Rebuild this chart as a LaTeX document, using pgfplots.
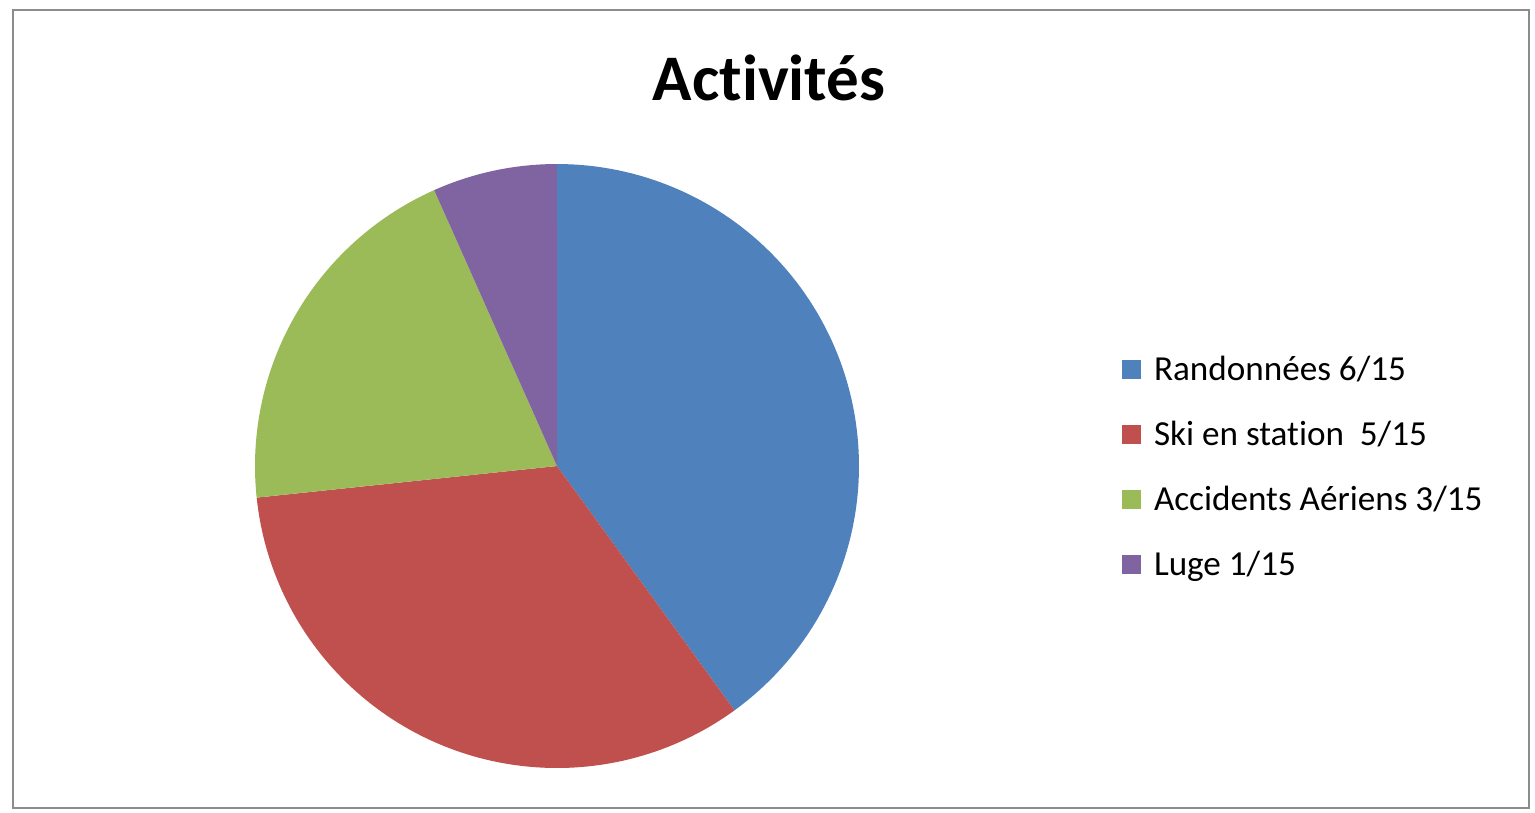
\documentclass[border=0pt]{standalone}
\usepackage{pgfplots}
\pgfplotsset{compat=1.18}
\usepackage{fontspec}
\setmainfont{Carlito}[Ligatures=NoCommon]
\definecolor{cblue}{HTML}{4F81BD}
\definecolor{cred}{HTML}{C0504D}
\definecolor{cgreen}{HTML}{9BBB59}
\definecolor{cpurple}{HTML}{8064A2}
% values of the pie: Randonnées 6, Ski en station 5, Accidents Aériens 3, Luge 1 (total 15)
\def\vA{6}\def\vB{5}\def\vC{3}\def\vD{1}
\pgfmathsetmacro\tot{\vA+\vB+\vC+\vD}
\pgfmathsetmacro\aA{90}
\pgfmathsetmacro\aB{90-360*\vA/\tot}
\pgfmathsetmacro\aC{90-360*(\vA+\vB)/\tot}
\pgfmathsetmacro\aD{90-360*(\vA+\vB+\vC)/\tot}
\pgfmathsetmacro\aE{90-360}
\def\cx{557}\def\cy{346}\def\R{302}
\begin{document}
\begin{tikzpicture}
\begin{axis}[
  scale only axis, width=15.35cm, height=8.12cm,
  xmin=0, xmax=1535, ymin=0, ymax=812,
  hide axis, clip=false,
  legend style={at={(axis cs:1122,455)}, anchor=north west, draw=none, fill=none,
    font=\fontsize{10}{12}\selectfont, inner sep=0pt, outer sep=0pt,
    row sep=0.36cm, column sep=0.13cm,
    nodes={inner sep=0pt, text height=0.23cm, text depth=0.06cm}},
  legend cell align=left,
  legend image code/.code={\fill[#1] (0cm,-0.07cm) rectangle (0.19cm,0.12cm);},
]
\addplot[fill=cblue, draw=none, domain=\aA:\aB, samples=100, variable=\t]
  ({\cx+\R*cos(\t)},{\cy+\R*sin(\t)}) -- (axis cs:\cx,\cy) -- cycle;
\addlegendentry{Randonnées 6/15}
\addplot[fill=cred, draw=none, domain=\aB:\aC, samples=100, variable=\t]
  ({\cx+\R*cos(\t)},{\cy+\R*sin(\t)}) -- (axis cs:\cx,\cy) -- cycle;
\addlegendentry{Ski en station\ \ 5/15}
\addplot[fill=cgreen, draw=none, domain=\aC:\aD, samples=80, variable=\t]
  ({\cx+\R*cos(\t)},{\cy+\R*sin(\t)}) -- (axis cs:\cx,\cy) -- cycle;
\addlegendentry{Accidents Aériens 3/15}
\addplot[fill=cpurple, draw=none, domain=\aD:\aE, samples=40, variable=\t]
  ({\cx+\R*cos(\t)},{\cy+\R*sin(\t)}) -- (axis cs:\cx,\cy) -- cycle;
\addlegendentry{Luge 1/15}
\node[font=\fontsize{18.5}{22}\bfseries, anchor=base] at (axis cs:769,712) {Activités};
\draw[color=black!45, line width=0.25mm] (axis cs:13,4) rectangle (axis cs:1529,802);
\path (axis cs:0,0) rectangle (axis cs:1535,812);
\end{axis}
\end{tikzpicture}
\end{document}
